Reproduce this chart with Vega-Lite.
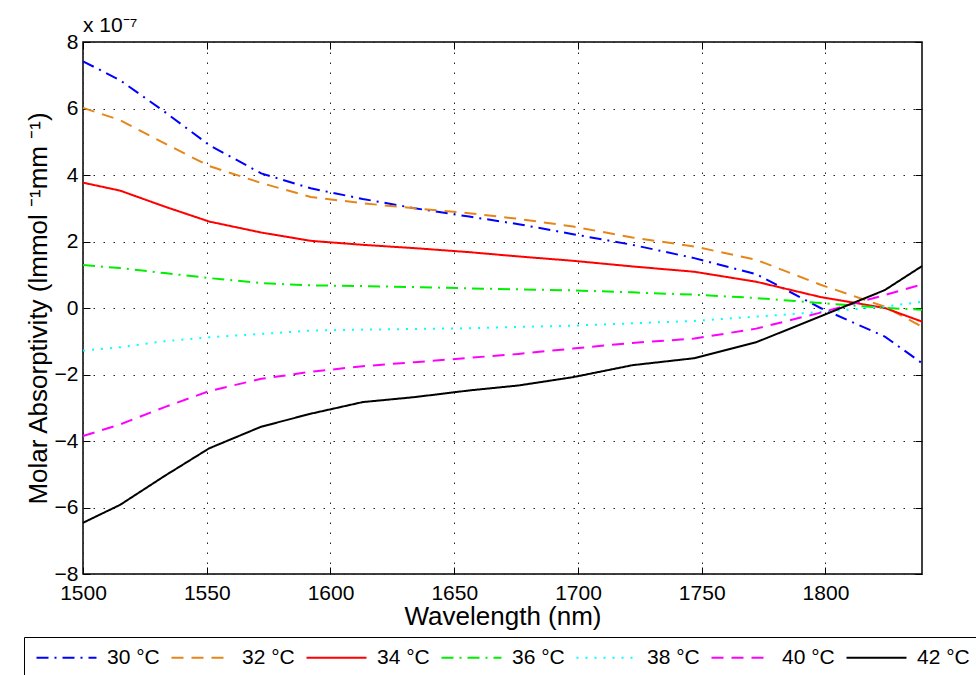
{
  "$schema": "https://vega.github.io/schema/vega-lite/v6.json",
  "width": 839,
  "height": 532,
  "autosize": {"type": "none"},
  "padding": {"left": 83, "top": 42, "right": 54, "bottom": 101},
  "background": "white",
  "title": {"text": "x 10⁻⁷", "anchor": "start", "frame": "group", "fontSize": 21, "fontWeight": "normal", "font": "Liberation Sans", "offset": -5, "color": "black"},
  "data": {"values": [
    {"w":1500,"a":7.42e-7,"s":"30 °C"},{"w":1515,"a":6.85e-7,"s":"30 °C"},{"w":1533,"a":5.9e-7,"s":"30 °C"},{"w":1551,"a":4.9e-7,"s":"30 °C"},{"w":1572,"a":4.05e-7,"s":"30 °C"},{"w":1592,"a":3.6e-7,"s":"30 °C"},{"w":1613,"a":3.28e-7,"s":"30 °C"},{"w":1634,"a":3.0e-7,"s":"30 °C"},{"w":1656,"a":2.75e-7,"s":"30 °C"},{"w":1676,"a":2.52e-7,"s":"30 °C"},{"w":1698,"a":2.22e-7,"s":"30 °C"},{"w":1722,"a":1.9e-7,"s":"30 °C"},{"w":1747,"a":1.5e-7,"s":"30 °C"},{"w":1772,"a":1.02e-7,"s":"30 °C"},{"w":1798,"a":0.0,"s":"30 °C"},{"w":1824,"a":-0.86e-7,"s":"30 °C"},{"w":1839,"a":-1.66e-7,"s":"30 °C"},
    {"w":1500,"a":6.02e-7,"s":"32 °C"},{"w":1515,"a":5.65e-7,"s":"32 °C"},{"w":1533,"a":4.95e-7,"s":"32 °C"},{"w":1551,"a":4.27e-7,"s":"32 °C"},{"w":1572,"a":3.76e-7,"s":"32 °C"},{"w":1592,"a":3.34e-7,"s":"32 °C"},{"w":1613,"a":3.15e-7,"s":"32 °C"},{"w":1634,"a":3.0e-7,"s":"32 °C"},{"w":1656,"a":2.85e-7,"s":"32 °C"},{"w":1676,"a":2.68e-7,"s":"32 °C"},{"w":1698,"a":2.45e-7,"s":"32 °C"},{"w":1722,"a":2.12e-7,"s":"32 °C"},{"w":1747,"a":1.85e-7,"s":"32 °C"},{"w":1772,"a":1.45e-7,"s":"32 °C"},{"w":1798,"a":0.7e-7,"s":"32 °C"},{"w":1824,"a":0.04e-7,"s":"32 °C"},{"w":1839,"a":-0.56e-7,"s":"32 °C"},
    {"w":1500,"a":3.77e-7,"s":"34 °C"},{"w":1515,"a":3.53e-7,"s":"34 °C"},{"w":1533,"a":3.05e-7,"s":"34 °C"},{"w":1551,"a":2.6e-7,"s":"34 °C"},{"w":1572,"a":2.27e-7,"s":"34 °C"},{"w":1592,"a":2.02e-7,"s":"34 °C"},{"w":1613,"a":1.9e-7,"s":"34 °C"},{"w":1634,"a":1.8e-7,"s":"34 °C"},{"w":1656,"a":1.68e-7,"s":"34 °C"},{"w":1676,"a":1.55e-7,"s":"34 °C"},{"w":1698,"a":1.42e-7,"s":"34 °C"},{"w":1722,"a":1.25e-7,"s":"34 °C"},{"w":1747,"a":1.09e-7,"s":"34 °C"},{"w":1772,"a":0.79e-7,"s":"34 °C"},{"w":1798,"a":0.33e-7,"s":"34 °C"},{"w":1824,"a":0.0,"s":"34 °C"},{"w":1839,"a":-0.41e-7,"s":"34 °C"},
    {"w":1500,"a":1.29e-7,"s":"36 °C"},{"w":1515,"a":1.2e-7,"s":"36 °C"},{"w":1533,"a":1.05e-7,"s":"36 °C"},{"w":1551,"a":0.9e-7,"s":"36 °C"},{"w":1572,"a":0.75e-7,"s":"36 °C"},{"w":1592,"a":0.68e-7,"s":"36 °C"},{"w":1613,"a":0.66e-7,"s":"36 °C"},{"w":1634,"a":0.63e-7,"s":"36 °C"},{"w":1656,"a":0.59e-7,"s":"36 °C"},{"w":1676,"a":0.56e-7,"s":"36 °C"},{"w":1698,"a":0.53e-7,"s":"36 °C"},{"w":1722,"a":0.47e-7,"s":"36 °C"},{"w":1747,"a":0.4e-7,"s":"36 °C"},{"w":1772,"a":0.3e-7,"s":"36 °C"},{"w":1798,"a":0.15e-7,"s":"36 °C"},{"w":1824,"a":0.0,"s":"36 °C"},{"w":1839,"a":-0.05e-7,"s":"36 °C"},
    {"w":1500,"a":-1.28e-7,"s":"38 °C"},{"w":1515,"a":-1.18e-7,"s":"38 °C"},{"w":1533,"a":-1.0e-7,"s":"38 °C"},{"w":1551,"a":-0.88e-7,"s":"38 °C"},{"w":1572,"a":-0.78e-7,"s":"38 °C"},{"w":1592,"a":-0.68e-7,"s":"38 °C"},{"w":1613,"a":-0.65e-7,"s":"38 °C"},{"w":1634,"a":-0.63e-7,"s":"38 °C"},{"w":1656,"a":-0.61e-7,"s":"38 °C"},{"w":1676,"a":-0.57e-7,"s":"38 °C"},{"w":1698,"a":-0.53e-7,"s":"38 °C"},{"w":1722,"a":-0.46e-7,"s":"38 °C"},{"w":1747,"a":-0.39e-7,"s":"38 °C"},{"w":1772,"a":-0.26e-7,"s":"38 °C"},{"w":1798,"a":-0.12e-7,"s":"38 °C"},{"w":1824,"a":0.04e-7,"s":"38 °C"},{"w":1839,"a":0.19e-7,"s":"38 °C"},
    {"w":1500,"a":-3.85e-7,"s":"40 °C"},{"w":1515,"a":-3.5e-7,"s":"40 °C"},{"w":1533,"a":-2.98e-7,"s":"40 °C"},{"w":1551,"a":-2.5e-7,"s":"40 °C"},{"w":1572,"a":-2.13e-7,"s":"40 °C"},{"w":1592,"a":-1.92e-7,"s":"40 °C"},{"w":1613,"a":-1.75e-7,"s":"40 °C"},{"w":1634,"a":-1.63e-7,"s":"40 °C"},{"w":1656,"a":-1.5e-7,"s":"40 °C"},{"w":1676,"a":-1.38e-7,"s":"40 °C"},{"w":1698,"a":-1.22e-7,"s":"40 °C"},{"w":1722,"a":-1.05e-7,"s":"40 °C"},{"w":1747,"a":-0.92e-7,"s":"40 °C"},{"w":1772,"a":-0.62e-7,"s":"40 °C"},{"w":1798,"a":-0.14e-7,"s":"40 °C"},{"w":1824,"a":0.39e-7,"s":"40 °C"},{"w":1839,"a":0.71e-7,"s":"40 °C"},
    {"w":1500,"a":-6.46e-7,"s":"42 °C"},{"w":1515,"a":-5.92e-7,"s":"42 °C"},{"w":1533,"a":-5.05e-7,"s":"42 °C"},{"w":1551,"a":-4.22e-7,"s":"42 °C"},{"w":1572,"a":-3.57e-7,"s":"42 °C"},{"w":1592,"a":-3.18e-7,"s":"42 °C"},{"w":1613,"a":-2.83e-7,"s":"42 °C"},{"w":1634,"a":-2.68e-7,"s":"42 °C"},{"w":1656,"a":-2.48e-7,"s":"42 °C"},{"w":1676,"a":-2.33e-7,"s":"42 °C"},{"w":1698,"a":-2.08e-7,"s":"42 °C"},{"w":1722,"a":-1.72e-7,"s":"42 °C"},{"w":1747,"a":-1.51e-7,"s":"42 °C"},{"w":1772,"a":-1.03e-7,"s":"42 °C"},{"w":1798,"a":-0.25e-7,"s":"42 °C"},{"w":1824,"a":0.54e-7,"s":"42 °C"},{"w":1839,"a":1.26e-7,"s":"42 °C"}
  ]},
  "layer": [
    {
      "mark": {"type": "point", "size": 0, "strokeWidth": 0, "filled": false},
      "encoding": {
        "x": {"field": "w", "type": "quantitative", "scale": {"domain": [1500, 1839], "nice": false, "zero": false},
              "axis": {"orient": "top", "values": [1500,1550,1600,1650,1700,1750,1800], "labels": false, "title": null, "grid": false, "tickSize": -7, "ticks": true}},
        "y": {"field": "a", "type": "quantitative", "scale": {"domain": [-8e-7, 8e-7], "nice": false, "zero": false},
              "axis": {"orient": "right", "values": [-8e-7,-6e-7,-4e-7,-2e-7,0,2e-7,4e-7,6e-7,8e-7], "labels": false, "title": null, "grid": false, "tickSize": -7, "ticks": true}}
      }
    },
    {
      "mark": {"type": "line", "strokeWidth": 2},
      "encoding": {
        "x": {"field": "w", "type": "quantitative", "scale": {"domain": [1500, 1839], "nice": false, "zero": false},
              "axis": {"orient": "bottom", "values": [1500,1550,1600,1650,1700,1750,1800], "format": "d", "title": "Wavelength (nm)", "titleFontSize": 26, "labelFontSize": 21, "labelPadding": 15, "titlePadding": 0, "tickSize": -7, "grid": true, "gridDash": [1.5, 8.5], "gridColor": "#222", "gridOpacity": 1, "gridWidth": 1, "labelFlush": false}},
        "y": {"field": "a", "type": "quantitative", "scale": {"domain": [-8e-7, 8e-7], "nice": false, "zero": false},
              "axis": {"orient": "left", "values": [-8e-7,-6e-7,-4e-7,-2e-7,0,2e-7,4e-7,6e-7,8e-7], "labelExpr": "format(round(datum.value*1e7), 'd')", "title": "Molar Absorptivity (lmmol ⁻¹mm ⁻¹)", "titleFontSize": 26, "labelFontSize": 21, "labelPadding": 12, "titlePadding": 3, "tickSize": -7, "grid": true, "gridDash": [1.5, 8.5], "gridColor": "#222", "gridOpacity": 1, "gridWidth": 1, "labelFlush": false}},
        "color": {"field": "s", "type": "nominal", "title": null,
                  "scale": {"domain": ["30 °C","32 °C","34 °C","36 °C","38 °C","40 °C","42 °C"], "range": ["#0000ff","#e5861a","#ff0000","#00ee00","#00ffff","#ff00ff","#000000"]}},
        "strokeDash": {"field": "s", "type": "nominal", "title": null,
                  "scale": {"domain": ["30 °C","32 °C","34 °C","36 °C","38 °C","40 °C","42 °C"], "range": [[12,6,2,6],[12,8],[1,0],[12,6,2,6],[2,7],[12,8],[1,0]]}}
      }
    }
  ],
  "resolve": {"axis": {"x": "independent", "y": "independent"}},
  "config": {
    "font": "Liberation Sans",
    "view": {"stroke": "black", "strokeWidth": 1.5},
    "axis": {"domain": false, "labelColor": "black", "titleColor": "black", "tickColor": "black", "labelFont": "Liberation Sans", "titleFont": "Liberation Sans", "titleFontWeight": "normal"},
    "legend": {
      "orient": "none", "legendX": -59, "legendY": 595, "direction": "horizontal", "columns": 7,
      "symbolType": "M-1.6,0H10.4", "symbolSize": 100, "symbolStrokeWidth": 2, "symbolOpacity": 1,
      "labelFontSize": 21, "labelFont": "Liberation Sans", "labelColor": "black", "labelOffset": 52,
      "columnPadding": 7, "padding": 10, "strokeColor": "black", "fillColor": "white"
    }
  }
}
